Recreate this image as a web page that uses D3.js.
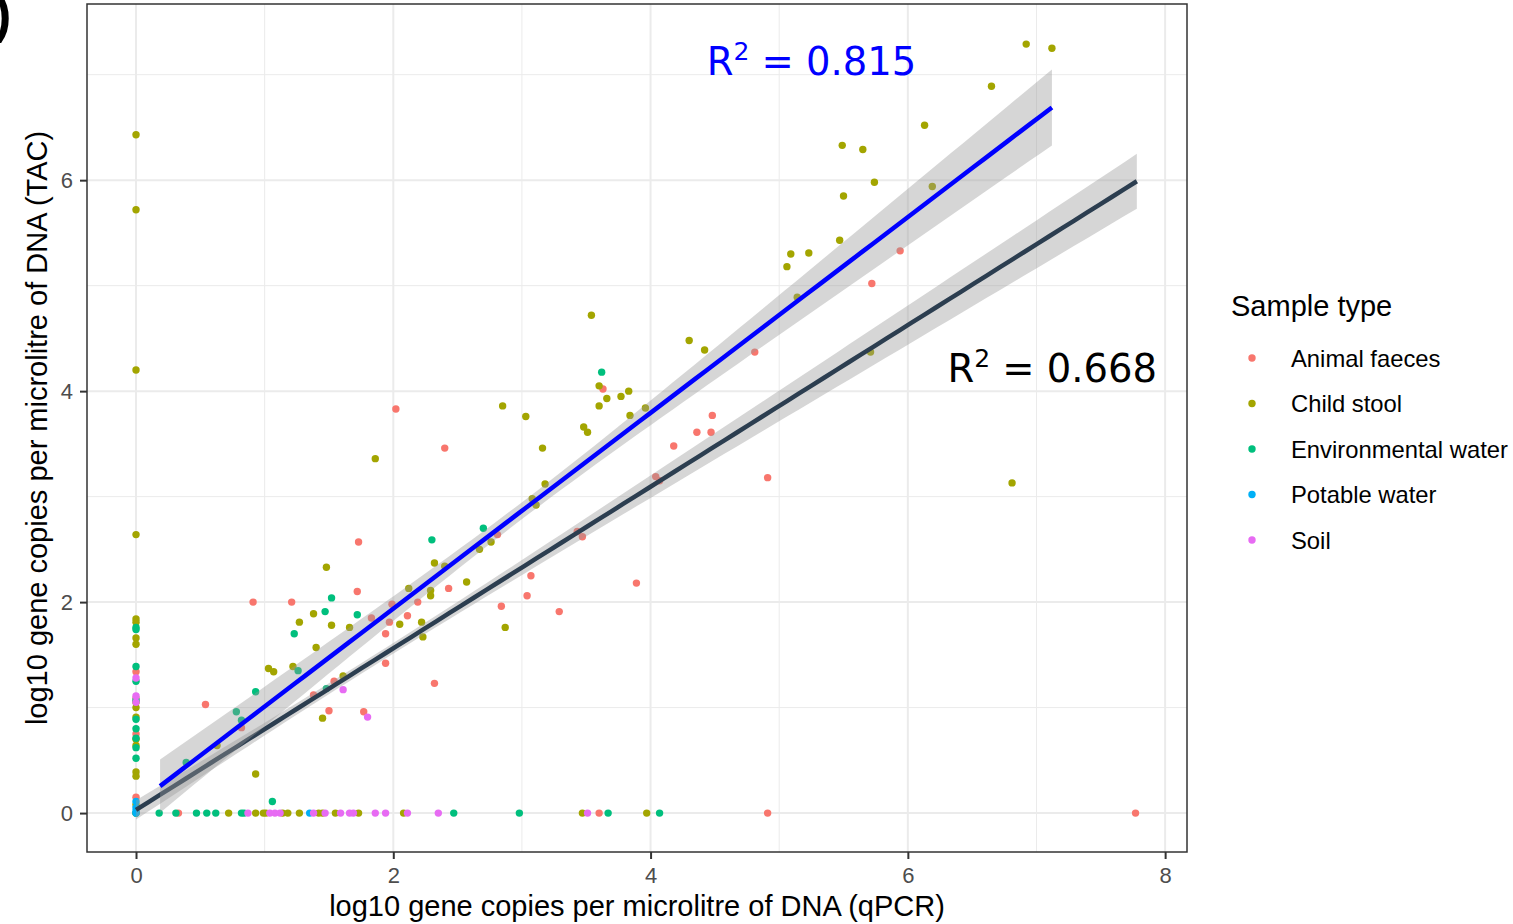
<!DOCTYPE html>
<html><head><meta charset="utf-8">
<script src="https://cdn.jsdelivr.net/npm/d3@7"></script>
<style>body{margin:0;background:#fff}svg{display:block}</style>
</head><body>
<svg id="c" width="1513" height="924"></svg>
<script>
// ---------- data ----------
const categories = ["Animal faeces","Child stool","Environmental water","Potable water","Soil"];
const colors = ["#F8766D","#A3A500","#00BF7D","#00B0F6","#E76BF3"];

const animalFaeces = [[1.73,2.57],[0.91,2.00],[1.21,2.00],[1.72,2.10],[0.54,1.03],[0.82,0.81],[1.54,1.25],[1.50,0.97],[1.77,0.96],[1.38,1.12],[1.83,1.85],[1.94,1.70],[1.97,1.81],[1.99,1.98],[2.11,1.87],[2.19,2.00],[1.94,1.42],[2.32,1.23],[2.43,2.13],[2.81,2.64],[2.84,1.96],[2.02,3.83],[2.40,3.46],[3.43,2.67],[3.47,2.62],[3.07,2.25],[3.04,2.06],[3.29,1.91],[3.89,2.18],[4.04,3.19],[4.07,3.15],[4.18,3.48],[4.36,3.61],[4.47,3.61],[4.48,3.77],[3.63,4.02],[4.81,4.37],[5.94,5.33],[5.72,5.02],[4.91,3.18],
  [0,1.34],[0,0.15],[0,1.09],[0,0.75],[0.33,0],[3.60,0],[4.91,0],[7.77,0]];
const childStool = [[1.48,2.33],[1.38,1.89],[1.27,1.81],[1.52,1.78],[1.66,1.76],[1.40,1.57],[1.03,1.37],[1.07,1.34],[1.22,1.39],[0.63,0.64],[0.93,0.37],[1.61,1.30],[1.45,0.90],[2.05,1.79],[2.12,2.13],[2.22,1.81],[2.23,1.67],[2.29,2.11],[2.29,2.06],[2.32,2.37],[2.40,2.34],[2.57,2.19],[2.67,2.50],[2.76,2.57],[2.87,1.76],[3.54,4.72],[4.30,4.48],[4.42,4.39],[3.60,4.05],[3.66,3.93],[3.77,3.95],[3.83,4.00],[3.60,3.86],[3.84,3.77],[3.96,3.84],[3.48,3.66],[3.51,3.61],[2.85,3.86],[3.03,3.76],[1.86,3.36],[3.16,3.46],[3.18,3.12],[3.08,2.98],[3.11,2.92],[6.92,7.29],[7.12,7.25],[6.65,6.89],[6.13,6.52],[5.49,6.33],[5.65,6.29],[5.74,5.98],[5.50,5.85],[6.19,5.94],[5.47,5.43],[5.09,5.30],[5.23,5.31],[5.06,5.18],[5.14,4.89],[5.71,4.37],[6.81,3.13],
  [0,6.43],[0,5.72],[0,4.20],[0,2.64],[0,1.84],[0,1.81],[0,1.66],[0,1.60],[0,1.05],[0,1.00],[0,0.91],[0,0.70],[0,0.64],[0,0.39],[0,0.35],[0,0.08],[0,0],
  [0.72,0],[0.93,0],[0.99,0],[1.01,0],[1.14,0],[1.18,0],[1.27,0],[1.42,0],[1.45,0],[1.55,0],[1.73,0],[2.08,0],[3.47,0],[3.97,0]];
const envWater = [[1.52,2.04],[1.47,1.91],[1.23,1.70],[1.72,1.88],[1.26,1.35],[0.93,1.15],[0.78,0.96],[0.82,0.88],[0.39,0.48],[1.48,1.18],[2.30,2.59],[2.70,2.70],[3.62,4.18],[1.06,0.11],
  [0,1.76],[0,1.74],[0,1.39],[0,1.25],[0,1.07],[0,0.89],[0,0.80],[0,0.71],[0,0.62],[0,0.52],[0,0],
  [0.18,0],[0.31,0],[0.47,0],[0.55,0],[0.62,0],[0.82,0],[0.84,0],[2.47,0],[2.98,0],[3.67,0],[4.07,0]];
const potableWater = [[0,0.11],[0,0.05],[0,0.02],[0,0],[1.35,0]];
const soil = [[0,1.28],[0,1.11],[0,1.05],[1.61,1.17],[1.80,0.91],
  [0.87,0],[1.04,0],[1.08,0],[1.12,0],[1.38,0],[1.47,0],[1.59,0],[1.66,0],[1.69,0],[1.86,0],[1.94,0],[2.11,0],[2.35,0],[3.51,0]];
const seriesValues = [animalFaeces, childStool, envWater, potableWater, soil];

// regression fits
const fitPositive = {xmin:0.187, xmax:7.12, a:0.082, b:0.928, h0:0.08, xm:3.0, k:0.00726};
const fitAll = {xmin:0.0, xmax:7.78, a:0.03, b:0.766, h0:0.05, xm:1.8, k:0.00182};
const r2Labels = [{text:"0.815", x:5.251, y:7.0, color:"#0000FF", anchor:"middle"},{text:"0.668", x:7.937, y:4.09, color:"#000000", anchor:"end"}];

const xTicks = [0,2,4,6,8];
const yTicks = [0,2,4,6];

// ---------- chart ----------
const svg = d3.select("#c");
const L=87, R=1187, T=4, B=852;
const x = d3.scaleLinear().domain([-0.381, 8.17]).range([L, R]);
const y = d3.scaleLinear().domain([-0.369, 7.67]).range([B, T]);
const FONT = "Liberation Sans, Arial, sans-serif";

svg.append("rect").attr("x",L).attr("y",T).attr("width",R-L).attr("height",B-T).attr("fill","#fff");
const grid = svg.append("g");
const xMinor = [1,3,5,7];
const yMinor = [1,3,5,7];
xMinor.forEach(v=>grid.append("line").attr("x1",x(v)).attr("x2",x(v)).attr("y1",T).attr("y2",B).attr("stroke","#ebebeb").attr("stroke-width",1));
yMinor.forEach(v=>grid.append("line").attr("y1",y(v)).attr("y2",y(v)).attr("x1",L).attr("x2",R).attr("stroke","#ebebeb").attr("stroke-width",1));
xTicks.forEach(v=>grid.append("line").attr("x1",x(v)).attr("x2",x(v)).attr("y1",T).attr("y2",B).attr("stroke","#ebebeb").attr("stroke-width",2));
yTicks.forEach(v=>grid.append("line").attr("y1",y(v)).attr("y2",y(v)).attr("x1",L).attr("x2",R).attr("stroke","#ebebeb").attr("stroke-width",2));

// points
const pts = svg.append("g");
seriesValues.forEach((arr,i)=>{
  pts.selectAll(null).data(arr).enter().append("circle")
    .attr("cx",d=>x(d[0])).attr("cy",d=>y(d[1])).attr("r",3.7).attr("fill",colors[i]);
});

// fits
function drawFit(f, color){
  const xs = d3.range(0,81).map(i=>f.xmin + (f.xmax-f.xmin)*i/80);
  const band = xs.map(v=>{const m=f.a+f.b*v; const h=Math.sqrt(f.h0*f.h0+f.k*(v-f.xm)*(v-f.xm)); return [v,m-h,m+h];});
  svg.append("path").datum(band)
    .attr("d", d3.area().x(d=>x(d[0])).y0(d=>y(d[1])).y1(d=>y(d[2])))
    .attr("fill","#999999").attr("fill-opacity",0.4);
  svg.append("path").datum(xs)
    .attr("d", d3.line().x(v=>x(v)).y(v=>y(f.a+f.b*v)))
    .attr("stroke",color).attr("stroke-width",4.5).attr("fill","none");
}
drawFit(fitAll, "#2C3E50");
drawFit(fitPositive, "#0000FF");

// R2 labels
r2Labels.forEach(l=>{
  const t = svg.append("text").attr("x",x(l.x)).attr("y",y(l.y))
    .attr("font-family","DejaVu Sans").attr("font-size",38.5).attr("fill",l.color)
    .attr("text-anchor", l.anchor);
  t.append("tspan").text("R");
  t.append("tspan").attr("dy",-15).attr("font-size",25).text("2");
  t.append("tspan").attr("dy",15).text(" = " + l.text);
});

// border
svg.append("rect").attr("x",L).attr("y",T).attr("width",R-L).attr("height",B-T).attr("fill","none").attr("stroke","#333333").attr("stroke-width",1.5);

// axes
const xa = svg.append("g").attr("transform",`translate(0,${B})`)
  .call(d3.axisBottom(x).tickValues(xTicks).tickSize(7).tickPadding(8).tickFormat(d3.format("d")));
const ya = svg.append("g").attr("transform",`translate(${L},0)`)
  .call(d3.axisLeft(y).tickValues(yTicks).tickSize(7).tickPadding(7).tickFormat(d3.format("d")));
[xa,ya].forEach(a=>{
  a.select(".domain").remove();
  a.selectAll(".tick line").attr("stroke","#333333").attr("stroke-width",2);
  a.selectAll(".tick text").attr("fill","#4D4D4D").attr("font-family",FONT).attr("font-size",22);
});

svg.append("text").attr("x",(L+R)/2).attr("y",916).attr("text-anchor","middle")
  .attr("font-family",FONT).attr("font-size",29).text("log10 gene copies per microlitre of DNA (qPCR)");
svg.append("text").attr("transform",`translate(47,${(T+B)/2}) rotate(-90)`).attr("text-anchor","middle")
  .attr("font-family",FONT).attr("font-size",29).text("log10 gene copies per microlitre of DNA (TAC)");

// panel label fragment (cut off at the page edge, as in the source figure)
svg.append("text").attr("x",-6).attr("y",32).attr("font-family",FONT).attr("font-weight","bold").attr("font-size",52).text(")");

// legend
const lg = svg.append("g");
lg.append("text").attr("x",1231).attr("y",316).attr("font-family",FONT).attr("font-size",29).text("Sample type");
categories.forEach((c,i)=>{
  const cy = 358 + i*45.5;
  lg.append("circle").attr("cx",1252).attr("cy",cy).attr("r",3.7).attr("fill",colors[i]);
  lg.append("text").attr("x",1291).attr("y",cy+8.5).attr("font-family",FONT).attr("font-size",23.8).text(c);
});
</script>
</body></html>
